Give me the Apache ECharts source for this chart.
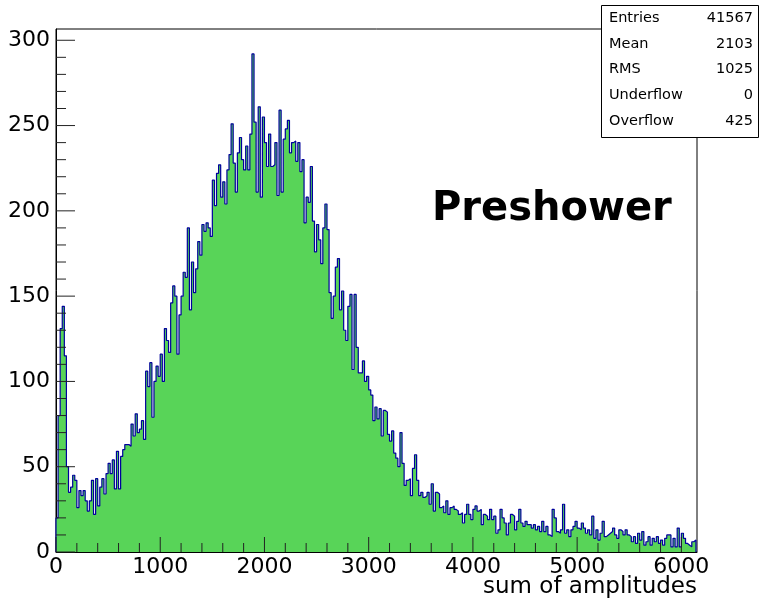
<!DOCTYPE html>
<html><head><meta charset="utf-8">
<script src="https://cdn.jsdelivr.net/npm/echarts@6/dist/echarts.min.js"></script>
<style>html,body{margin:0;padding:0;background:#fff}#c{width:760px;height:598px;background:#fff}</style>
</head><body><div id="c"></div>
<script>
// ---- data ----
const binWidth = 20;      // width of one histogram bin (sum of amplitudes units)
const binStart = 0;
const counts = [
  20, 80, 131, 144, 115, 50, 35, 38, 45, 42,
  26, 36, 33, 36, 30, 24, 30, 42, 22, 43,
  27, 38, 43, 34, 46, 52, 46, 54, 37, 59,
  37, 56, 60, 63, 63, 62, 75, 68, 81, 70,
  72, 77, 66, 106, 97, 111, 79, 100, 109, 103,
  116, 100, 131, 124, 117, 146, 156, 150, 116, 139,
  150, 164, 161, 190, 142, 170, 152, 166, 182, 174,
  192, 188, 193, 190, 185, 218, 203, 222, 227, 208,
  217, 204, 224, 233, 251, 228, 211, 234, 243, 230,
  224, 238, 224, 245, 292, 252, 211, 261, 208, 255,
  240, 226, 245, 226, 227, 240, 209, 259, 211, 242,
  248, 253, 234, 240, 241, 229, 240, 223, 230, 193,
  208, 205, 226, 194, 176, 192, 183, 169, 190, 204,
  189, 152, 137, 150, 167, 172, 142, 153, 130, 124,
  144, 151, 107, 151, 120, 105, 105, 112, 100, 103,
  95, 92, 77, 85, 78, 84, 68, 83, 82, 69,
  65, 71, 58, 55, 50, 70, 52, 39, 42, 43,
  33, 49, 57, 42, 33, 35, 32, 33, 35, 28,
  40, 24, 35, 34, 26, 27, 23, 30, 22, 26,
  27, 25, 24, 22, 23, 17, 22, 28, 22, 19,
  25, 27, 24, 25, 16, 22, 21, 19, 25, 19,
  21, 11, 13, 25, 20, 17, 10, 17, 22, 21,
  13, 18, 25, 17, 15, 18, 16, 16, 14, 16,
  13, 15, 12, 18, 12, 15, 10, 9, 25, 20,
  12, 11, 13, 28, 11, 13, 9, 13, 15, 18,
  14, 13, 17, 14, 11, 13, 10, 21, 8, 13,
  7, 11, 18, 9, 10, 11, 12, 14, 10, 8,
  13, 12, 10, 13, 10, 9, 6, 9, 5, 11,
  7, 12, 4, 6, 9, 4, 8, 6, 9, 5,
  7, 4, 8, 10, 10, 3, 8, 3, 14, 3,
  11, 8, 5, 4, 3, 6, 7
];
const xMin = 0, xMax = 6150;
const yMin = 0, yMax = 306.6;
const xMajorTicks = [0, 1000, 2000, 3000, 4000, 5000, 6000];
const xMinorTicks = [200, 400, 600, 800, 1200, 1400, 1600, 1800, 2200, 2400, 2600, 2800,
  3200, 3400, 3600, 3800, 4200, 4400, 4600, 4800, 5200, 5400, 5600, 5800];
const yMajorTicks = [0, 50, 100, 150, 200, 250, 300];
const yMinorTicks = [10, 20, 30, 40, 60, 70, 80, 90, 110, 120, 130, 140, 160, 170, 180, 190,
  210, 220, 230, 240, 260, 270, 280, 290];
const statsLabels = ['Entries', 'Mean', 'RMS', 'Underflow', 'Overflow'];
const statsValues = ['41567', '2103', '1025', '0', '425'];
const titleText = 'Preshower';
const xTitle = 'sum of amplitudes';

// ---- build step outline from bins ----
const stepPts = [[binStart, 0]];
counts.forEach((c, i) => {
  const lo = binStart + i * binWidth, hi = lo + binWidth;
  stepPts.push([lo, c], [hi, c]);
});
stepPts.push([binStart + counts.length * binWidth, 0]);

const FONT = 'DejaVu Sans';
const TICK = '#222';
const chart = echarts.init(document.getElementById('c'), null, {renderer: 'canvas'});

const statsChildren = [{
  type: 'rect', shape: {x: 0.5, y: 0.5, width: 157, height: 132},
  style: {fill: '#fff', stroke: '#000', lineWidth: 1}
}];
statsLabels.forEach((lab, i) => {
  const cy = 13.5 + i * 25.6;
  statsChildren.push({type: 'text', x: 8, y: cy,
    style: {text: lab, font: '14.5px "' + FONT + '"', fill: '#000', verticalAlign: 'middle', align: 'left'}});
  statsChildren.push({type: 'text', x: 152, y: cy,
    style: {text: statsValues[i], font: '14.5px "' + FONT + '"', fill: '#000', verticalAlign: 'middle', align: 'right'}});
});

const fmtStep = step => v => (Math.abs(v / step - Math.round(v / step)) < 1e-6 ? String(Math.round(v)) : '');

// tick marks drawn as thin rect symbols on top of the histogram (ROOT draws ticks over the fill)
function tickSeries(values, isX, len) {
  return {
    type: 'scatter', silent: true, clip: false, z: 5,
    data: values.map(v => isX ? [v, 0] : [0, v]),
    symbol: 'rect',
    symbolSize: isX ? [1, len] : [len, 1],
    symbolOffset: isX ? [0, '-50%'] : ['50%', 0],
    itemStyle: {color: TICK, opacity: 1},
    emphasis: {disabled: true}
  };
}

const option = {
  animation: false,
  backgroundColor: '#fff',
  grid: {left: 56, top: 29, right: 63, bottom: 46, show: true, borderColor: '#000', borderWidth: 1, backgroundColor: 'transparent', containLabel: false},
  xAxis: {
    type: 'value', min: xMin, max: xMax, interval: 1000, position: 'bottom',
    axisLine: {show: true, onZero: false, lineStyle: {color: '#000', width: 1}},
    axisTick: {show: false},
    axisLabel: {show: true, formatter: fmtStep(1000), showMaxLabel: false, fontFamily: FONT, fontSize: 22, color: '#000', margin: 4},
    splitLine: {show: false}
  },
  yAxis: {
    type: 'value', min: yMin, max: yMax, interval: 50, position: 'left',
    axisLine: {show: true, onZero: false, lineStyle: {color: '#000', width: 1}},
    axisTick: {show: false},
    axisLabel: {show: true, formatter: fmtStep(50), showMaxLabel: false, fontFamily: FONT, fontSize: 22, color: '#000', margin: 6},
    splitLine: {show: false}
  },
  series: [{
    type: 'line',
    data: stepPts, showSymbol: false, symbol: 'none',
    lineStyle: {color: '#00009c', width: 1.2},
    areaStyle: {color: '#58d458', opacity: 1},
    z: 2, silent: true
  },
    tickSeries(xMajorTicks, true, 15),
    tickSeries(xMinorTicks, true, 9),
    tickSeries(yMajorTicks, false, 19),
    tickSeries(yMinorTicks, false, 10)
  ],
  graphic: [
    {type: 'group', left: 601, top: 5, z: 100, children: statsChildren},
    {type: 'text', left: 432, top: 190, z: 100,
      style: {text: titleText, font: 'bold 40px "' + FONT + '"', fill: '#000'}},
    {type: 'text', right: 63, top: 576, z: 100,
      style: {text: xTitle, font: '23px "' + FONT + '"', fill: '#000'}}
  ]
};
chart.setOption(option);
</script>
</body></html>
